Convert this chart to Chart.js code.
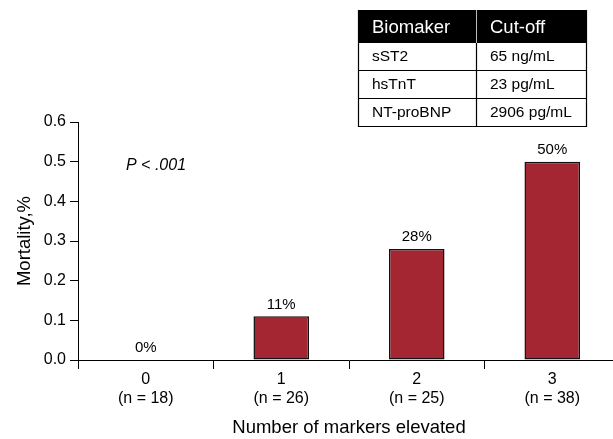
<!DOCTYPE html>
<html>
<head>
<meta charset="utf-8">
<script src="https://cdn.jsdelivr.net/npm/chart.js@4/dist/chart.umd.min.js"></script>
<style>
  html, body { margin: 0; padding: 0; background: #fff; overflow: hidden; }
  #wrap { width: 620px; height: 439px; }
</style>
</head>
<body>
<div id="wrap"><canvas id="chart" width="620" height="439"></canvas></div>
<script>
// Mortality by number of elevated biomarkers
const categories = ['0', '1', '2', '3'];
const patientCounts = [18, 26, 25, 38];
const mortality = [0, 0.11, 0.28, 0.50];

// Biomarker cut-off table
const tableHeader = ['Biomaker', 'Cut-off'];
const biomarkers = ['sST2', 'hsTnT', 'NT-proBNP'];
const cutoffs = ['65 ng/mL', '23 pg/mL', '2906 pg/mL'];

const pValueText = 'P < .001';

const FONT = '"Liberation Sans", Arial, Helvetica, sans-serif';
const BAR_COLOR = '#A32632';

Chart.defaults.font.family = FONT;
Chart.defaults.color = '#000';

// Percent labels above each bar
const valueLabels = {
  id: 'valueLabels',
  afterDatasetsDraw(chart) {
    const ctx = chart.ctx;
    const meta = chart.getDatasetMeta(0);
    ctx.save();
    ctx.font = '15px ' + FONT;
    ctx.fillStyle = '#000';
    ctx.textAlign = 'center';
    ctx.textBaseline = 'middle';
    meta.data.forEach((bar, i) => {
      ctx.fillText(Math.round(mortality[i] * 100) + '%', bar.x, bar.y - 12);
    });
    ctx.restore();
  }
};

// P-value note inside the plot
const pValueNote = {
  id: 'pValueNote',
  afterDraw(chart) {
    const ctx = chart.ctx;
    const y = chart.scales.y.getPixelForValue(0.49);
    ctx.save();
    ctx.font = 'italic 16px ' + FONT;
    ctx.fillStyle = '#000';
    ctx.textAlign = 'left';
    ctx.textBaseline = 'middle';
    ctx.fillText(pValueText, chart.chartArea.left + 48, y);
    ctx.restore();
  }
};

// Cut-off table in the top right corner
const cutoffTable = {
  id: 'cutoffTable',
  afterDraw(chart) {
    const ctx = chart.ctx;
    const left = 358, right = 587, mid = 476;
    const top = 10, headerH = 33, rowH = 28;
    const bottom = top + headerH + rowH * biomarkers.length;
    const padX = 14;
    ctx.save();
    // header
    ctx.fillStyle = '#000';
    ctx.fillRect(left, top, right - left, headerH);
    ctx.strokeStyle = '#bbb';
    ctx.lineWidth = 1;
    ctx.beginPath();
    ctx.moveTo(mid + 0.5, top);
    ctx.lineTo(mid + 0.5, top + headerH);
    ctx.stroke();
    ctx.fillStyle = '#fff';
    ctx.font = '18.5px ' + FONT;
    ctx.textAlign = 'left';
    ctx.textBaseline = 'middle';
    ctx.fillText(tableHeader[0], left + padX, top + headerH / 2 + 1);
    ctx.fillText(tableHeader[1], mid + padX, top + headerH / 2 + 1);
    // body grid
    ctx.strokeStyle = '#000';
    ctx.lineWidth = 1.2;
    ctx.beginPath();
    ctx.moveTo(left + 0.5, top);
    ctx.lineTo(left + 0.5, bottom);
    ctx.moveTo(right - 0.5, top);
    ctx.lineTo(right - 0.5, bottom);
    ctx.moveTo(mid + 0.5, top + headerH);
    ctx.lineTo(mid + 0.5, bottom);
    for (let i = 1; i <= biomarkers.length; i++) {
      const y = top + headerH + rowH * i - 0.5;
      ctx.moveTo(left, y);
      ctx.lineTo(right, y);
    }
    ctx.stroke();
    // body text
    ctx.fillStyle = '#000';
    ctx.font = '15.5px ' + FONT;
    biomarkers.forEach((name, i) => {
      const y = top + headerH + rowH * i + rowH / 2;
      ctx.fillText(name, left + padX, y);
      ctx.fillText(cutoffs[i], mid + padX, y);
    });
    ctx.restore();
  }
};

new Chart(document.getElementById('chart'), {
  type: 'bar',
  data: {
    labels: categories.map((c, i) => [c, '(n = ' + patientCounts[i] + ')']),
    datasets: [{
      data: mortality,
      backgroundColor: BAR_COLOR,
      borderColor: '#111',
      borderWidth: 1.5,
      borderSkipped: false,
      categoryPercentage: 1,
      barPercentage: 0.41
    }]
  },
  options: {
    responsive: false,
    animation: false,
    layout: { padding: { top: 122, left: 0, right: 0, bottom: 0 } },
    plugins: {
      legend: { display: false },
      tooltip: { enabled: false }
    },
    scales: {
      x: {
        grid: {
          offset: true,
          drawOnChartArea: false,
          drawTicks: true,
          tickLength: 9,
          color: '#000',
          lineWidth: 1
        },
        border: { display: true, color: '#000', width: 1 },
        ticks: {
          padding: 1,
          font: { size: 16, lineHeight: 1.2 },
          color: '#000',
          maxRotation: 0
        },
        title: {
          display: true,
          text: 'Number of markers elevated',
          font: { size: 18.5, lineHeight: 1.2 },
          color: '#000',
          padding: { top: 0, bottom: 0 }
        },
        afterFit(scale) { scale.height = 79; }
      },
      y: {
        min: 0,
        max: 0.6,
        grid: {
          drawOnChartArea: false,
          drawTicks: true,
          tickLength: 8,
          color: '#000',
          lineWidth: 1
        },
        border: { display: true, color: '#000', width: 1 },
        ticks: {
          stepSize: 0.1,
          padding: 4,
          font: { size: 16 },
          color: '#000',
          callback: (v) => Number(v).toFixed(1)
        },
        title: {
          display: true,
          text: 'Mortality,%',
          font: { size: 18.5, lineHeight: 1.2 },
          color: '#000',
          padding: { top: 14, bottom: 0 }
        },
        afterFit(scale) { scale.width = 78; }
      }
    }
  },
  plugins: [valueLabels, pValueNote, cutoffTable]
});
</script>
</body>
</html>
